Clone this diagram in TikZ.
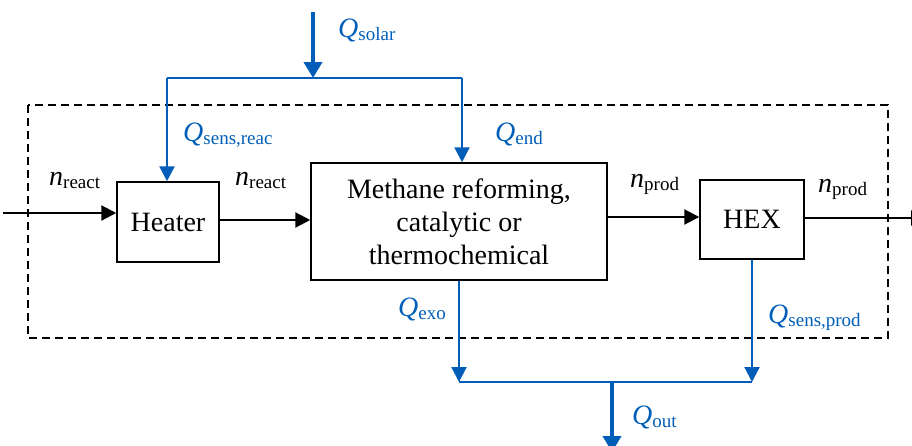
\documentclass[tikz,border=0pt]{standalone}
\usepackage{fontspec}
\setmainfont{Liberation Serif}
\usetikzlibrary{arrows.meta}
\definecolor{qblue}{RGB}{0,94,184}
\newcommand{\sym}[2]{\textit{#1}\raisebox{-3pt}{\fontsize{19}{19}\selectfont #2}}
\begin{document}
\begin{tikzpicture}[x=1pt,y=-1pt,
 box/.style={draw, line width=1.5pt, fill=white, inner sep=0pt, font=\fontsize{28}{33}\selectfont, align=center},
 flow/.style={line width=2.2pt, -{Triangle[length=15pt,width=15pt]}},
 qline/.style={color=qblue, line width=2.2pt},
 qflow/.style={qline, -{Triangle[length=15pt,width=15pt]}},
 qthick/.style={color=qblue, line width=4.2pt, -{Triangle[length=16pt,width=18pt]}},
 sysbound/.style={line width=2pt, dash pattern=on 8pt off 5pt},
 lbl/.style={anchor=base west, inner sep=0pt, font=\fontsize{28}{33}\selectfont},
 qlbl/.style={lbl, text=qblue}]
\useasboundingbox (0,0) rectangle (912,445);

% system boundary
\draw[sysbound] (28,105) rectangle (888,338);

% units
\node[box, minimum width=102pt, minimum height=80pt] (heater) at (168,222) {Heater};
\node[box, minimum width=296pt, minimum height=117pt] (reactor) at (459,221.5) {Methane reforming,\\catalytic or\\thermochemical};
\node[box, minimum width=104pt, minimum height=79pt] (hex) at (752,219.5) {HEX};

% material flows
\coordinate (in) at (3,213);
\coordinate (out) at (926,218);
\draw[flow] (in) -- (in -| heater.west);
\draw[flow] ([yshift=2pt]heater.east) -- ([yshift=2pt]heater.east -| reactor.west);
\draw[flow] ([yshift=2.5pt]hex.west -| reactor.east) -- ([yshift=2.5pt]hex.west);
\draw[flow] (hex.east |- out) -- (out);

% heat supply
\coordinate (solartop) at (313,12);
\coordinate (split) at (313,78);
\coordinate (sl) at (167,78);
\coordinate (sr) at (462,78);
\draw[qline] (sl) -- (sr);
\draw[qthick] (solartop) -- (split);
\draw[qflow] (sl) -- (sl |- heater.north);
\draw[qflow] (sr) -- (sr |- reactor.north);

% heat output
\coordinate (jl) at (459,382);
\coordinate (jr) at (752,382);
\coordinate (jout) at (612,382);
\coordinate (outend) at (612,452);
\draw[qline] (jl) -- (jr);
\draw[qflow] (reactor.south) -- (jl);
\draw[qflow] (hex.south) -- (jr);
\draw[qthick] (jout) -- (outend);

% labels
\node[qlbl] (lsolar) at (338,37) {\sym{Q}{solar}};
\node[qlbl] (lsensreac) at (183,141) {\sym{Q}{sens,reac}};
\node[qlbl] (lend) at (495,141) {\sym{Q}{end}};
\node[lbl] (lnr1) at (49,185) {\sym{n}{react}};
\node[lbl] (lnr2) at (235,185) {\sym{n}{react}};
\node[lbl] (lnp1) at (630,187) {\sym{n}{prod}};
\node[lbl] (lnp2) at (818,192) {\sym{n}{prod}};
\node[qlbl] (lexo) at (398,316) {\sym{Q}{exo}};
\node[qlbl] (lsensprod) at (768,323) {\sym{Q}{sens,prod}};
\node[qlbl] (lout) at (632,424) {\sym{Q}{out}};
\end{tikzpicture}
\end{document}
